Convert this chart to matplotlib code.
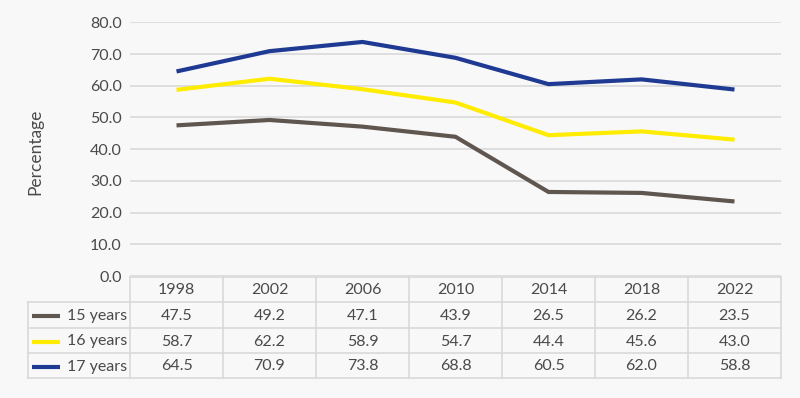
import numpy as np
import matplotlib.pyplot as plt
from matplotlib.lines import Line2D

years = ['1998', '2002', '2006', '2010', '2014', '2018', '2022']
series_names = ['15 years', '16 years', '17 years']
age15 = [47.5, 49.2, 47.1, 43.9, 26.5, 26.2, 23.5]
age16 = [58.7, 62.2, 58.9, 54.7, 44.4, 45.6, 43.0]
age17 = [64.5, 70.9, 73.8, 68.8, 60.5, 62.0, 58.8]
yticks = [0, 10, 20, 30, 40, 50, 60, 70, 80]

colors = ['#5f5650', '#ffec00', '#1f3a93']
bg = '#f9f8f9'
txt = '#4a4a4a'
gridc = '#d9d9d9'

plt.rcParams['font.family'] = ['Lato', 'DejaVu Sans']

fig = plt.figure(figsize=(8, 3.98), dpi=100, facecolor=bg)
W, H = 800, 398

def fx(px):
    return px / W

def fy(py):
    return 1 - py / H

x_left, x_right = 130, 781
y_top, y_zero = 22.3, 276
ax = fig.add_axes([fx(x_left), fy(y_zero), fx(x_right) - fx(x_left), fy(y_top) - fy(y_zero)])
ax.set_facecolor(bg)
ax.set_xlim(0, len(years))
ax.set_ylim(0, 80)

x = np.arange(len(years)) + 0.5
for vals, c in zip([age15, age16, age17], colors):
    ax.plot(x, vals, color=c, lw=3, solid_capstyle='butt', solid_joinstyle='miter', zorder=3)

ax.set_yticks(yticks)
ax.set_yticklabels([f'{v:.1f}' for v in yticks], fontsize=11.5, color=txt)
ax.tick_params(axis='y', length=0, pad=6)
ax.set_xticks([])
ax.grid(axis='y', color=gridc, lw=1.2)
ax.set_axisbelow(True)
for s in ax.spines.values():
    s.set_visible(False)
ax.set_ylabel('Percentage', fontsize=12.5, color=txt)
ax.yaxis.set_label_coords((43 - x_left) / (x_right - x_left), (y_zero - 152) / (y_zero - y_top))

# data table under the chart
tab = fig.add_axes([0, 0, 1, 1], facecolor='none')
tab.set_xlim(0, W)
tab.set_ylim(H, 0)
tab.axis('off')

row_edges = [277, 302, 328, 353, 378]
col_w = (x_right - x_left) / len(years)
col_edges = [x_left + i * col_w for i in range(len(years) + 1)]
label_left = 28

# horizontal lines
tab.plot([col_edges[0], col_edges[-1]], [row_edges[0]] * 2, color=gridc, lw=1.2)
for yy in row_edges[1:]:
    tab.plot([label_left, col_edges[-1]], [yy] * 2, color=gridc, lw=1.2)
# vertical lines
tab.plot([label_left] * 2, [row_edges[1], row_edges[-1]], color=gridc, lw=1.2)
for xx in col_edges:
    tab.plot([xx] * 2, [row_edges[0], row_edges[-1]], color=gridc, lw=1.2)

for i, yr in enumerate(years):
    tab.text((col_edges[i] + col_edges[i + 1]) / 2, (row_edges[0] + row_edges[1]) / 2 + 1, yr,
             ha='center', va='center', fontsize=11.5, color=txt)

for r, (name, vals, c) in enumerate(zip(series_names, [age15, age16, age17], colors)):
    yc = (row_edges[r + 1] + row_edges[r + 2]) / 2 + 1
    tab.add_line(Line2D([32, 60], [yc, yc], color=c, lw=3, solid_capstyle='butt'))
    tab.text(67, yc, name, ha='left', va='center', fontsize=11.5, color=txt)
    for i, v in enumerate(vals):
        tab.text((col_edges[i] + col_edges[i + 1]) / 2, yc, f'{v:.1f}',
                 ha='center', va='center', fontsize=11.5, color=txt)

fig.savefig('out.png', dpi=100, facecolor=bg)
